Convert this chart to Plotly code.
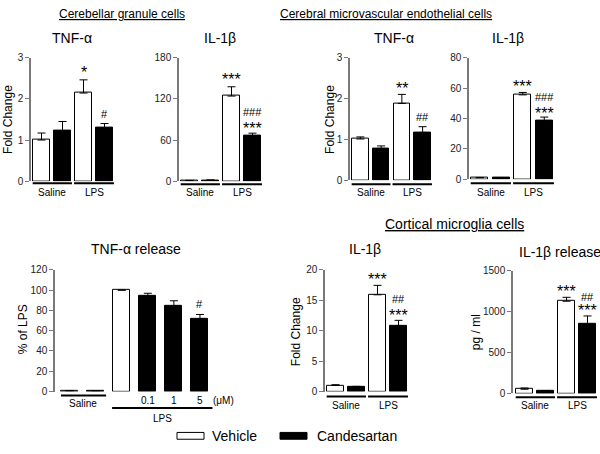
import plotly.graph_objects as go

W, H = 600, 454
FONT = "Arial, Liberation Sans, sans-serif"

# ---------------- data ----------------
conditions = ["Saline", "LPS"]
treatments = ["Vehicle", "Candesartan"]

cgc_tnf = [1.0, 1.22, 2.14, 1.30]
cgc_tnf_err = [0.17, 0.23, 0.32, 0.10]
cgc_il1b = [1.0, 1.5, 124, 66]
cgc_il1b_err = [0.3, 0.4, 13.5, 4.0]

cmec_tnf = [1.01, 0.78, 1.88, 1.17]
cmec_tnf_err = [0.05, 0.06, 0.22, 0.14]
cmec_il1b = [1.0, 0.8, 55.5, 38.5]
cmec_il1b_err = [0.2, 0.3, 1.6, 2.4]

release_doses = ["0.1", "1", "5"]
release_unit = "(μM)"
release_tnf = [0.8, 0.8, 100, 94.4, 84.5, 71.5]
release_tnf_err = [0, 0, 0, 2.5, 5.0, 4.5]

cmg_il1b = [1.0, 0.8, 15.9, 10.8]
cmg_il1b_err = [0.12, 0.05, 1.55, 0.9]
cmg_il1b_release = [52, 30, 1128, 848]
cmg_il1b_release_err = [15, 5, 48, 100]

four_colors = ["white", "black", "white", "black"]
six_colors = ["white", "black", "white", "black", "black", "black"]

# ---------------- panel layout (pixels) ----------------
panels = [
    dict(v=cgc_tnf, e=cgc_tnf_err, c=four_colors, xd=(31, 115), yd=(53, 180), xr=(-0.5, 3.5),
         yr=(0, 3), dt=1, title="TNF-α", tpos=(72, 33), ylab="Fold Change", ylpos=(8, 117),
         sig=[(2, "*", 11, 16), (3, "#", 10, 11)], grp_y=(182, 192)),
    dict(v=cgc_il1b, e=cgc_il1b_err, c=four_colors, xd=(179, 263), yd=(53, 180), xr=(-0.5, 3.5),
         yr=(0, 180), dt=60, title="IL-1β", tpos=(220, 33), ylab=None,
         sig=[(2, "***", 11, 16), (3, "***", 9, 16), (3, "###", 21, 11)], grp_y=(183, 192)),
    dict(v=cmec_tnf, e=cmec_tnf_err, c=four_colors, xd=(350, 433), yd=(53, 179), xr=(-0.5, 3.5),
         yr=(0, 3), dt=1, title="TNF-α", tpos=(394, 33), ylab="Fold Change", ylpos=(330, 117),
         sig=[(2, "**", 10, 16), (3, "##", 10, 11)], grp_y=(183, 192)),
    dict(v=cmec_il1b, e=cmec_il1b_err, c=four_colors, xd=(469, 555), yd=(53, 178), xr=(-0.5, 3.5),
         yr=(0, 80), dt=20, title="IL-1β", tpos=(508, 33), ylab=None,
         sig=[(2, "***", 10, 16), (3, "***", 8, 16), (3, "###", 20, 11)], grp_y=(182, 192)),
    dict(v=release_tnf, e=release_tnf_err, c=six_colors, xd=(55, 213), yd=(271, 396), xr=(-0.56, 5.5),
         yr=(0, 120), dt=20, title="TNF-α release", tpos=(136, 250), ylab="% of LPS", ylpos=(23, 332),
         sig=[(5, "#", 10, 11)], grp_y=None),
    dict(v=cmg_il1b, e=cmg_il1b_err, c=four_colors, xd=(325, 409), yd=(271, 396), xr=(-0.5, 3.5),
         yr=(0, 20), dt=5, title="IL-1β", tpos=(365, 250), ylab="Fold Change", ylpos=(296, 335),
         sig=[(2, "***", 10, 16), (3, "***", 9, 16), (3, "##", 21, 11)], grp_y=(401, 410)),
    dict(v=cmg_il1b_release, e=cmg_il1b_release_err, c=four_colors, xd=(513, 598), yd=(272, 398),
         xr=(-0.55, 3.5), yr=(0, 1500), dt=500, title="IL-1β release", tpos=(560, 253),
         ylab="pg / ml", ylpos=(476, 335),
         sig=[(2, "***", 10, 16), (3, "***", 9, 16), (3, "##", 19, 11)], grp_y=(402, 410)),
]


def px_x(p):
    return p / W


def px_y(p):
    return 1 - p / H


fig = go.Figure()
annotations = []
shapes = []
layout = {}

for i, p in enumerate(panels, start=1):
    xa = "x" if i == 1 else f"x{i}"
    ya = "y" if i == 1 else f"y{i}"
    n = len(p["v"])
    xs = list(range(n))
    width = 0.8 if n == 4 else 0.65
    fig.add_trace(go.Bar(
        x=xs, y=p["v"], xaxis=xa, yaxis=ya, width=width,
        marker=dict(color=p["c"], line=dict(color="black", width=1)),
        error_y=dict(type="data", array=p["e"], arrayminus=[0] * n, symmetric=False,
                     color="black", thickness=1, width=4),
        showlegend=False, hoverinfo="skip",
    ))
    layout["xaxis" if i == 1 else f"xaxis{i}"] = dict(
        domain=[px_x(p["xd"][0]), px_x(p["xd"][1])], range=list(p["xr"]),
        visible=False, anchor=ya, fixedrange=True)
    layout["yaxis" if i == 1 else f"yaxis{i}"] = dict(
        domain=[px_y(p["yd"][1]), px_y(p["yd"][0])], range=list(p["yr"]), dtick=p["dt"],
        anchor=xa, showline=True, linecolor="#7a7a7a", linewidth=1.5, ticks="outside",
        ticklen=4, tickcolor="#7a7a7a", tickwidth=1.2, showgrid=False, zeroline=False,
        tickfont=dict(size=10, color="#222", family=FONT), fixedrange=True)

    # panel title
    annotations.append(dict(text=p["title"], x=px_x(p["tpos"][0]), y=px_y(p["tpos"][1]),
                            xref="paper", yref="paper", showarrow=False, xanchor="center",
                            yanchor="middle", font=dict(size=14, color="black", family=FONT)))
    if p.get("ylab"):
        annotations.append(dict(text=p["ylab"], x=px_x(p["ylpos"][0]), y=px_y(p["ylpos"][1]),
                                xref="paper", yref="paper", showarrow=False, textangle=-90,
                                xanchor="center", yanchor="middle",
                                font=dict(size=12, color="black", family=FONT)))
    # significance marks
    for idx, txt, off, size in p["sig"]:
        corr = -4 if "*" in txt else 0
        annotations.append(dict(text=txt, x=idx, y=p["v"][idx] + p["e"][idx], xref=xa, yref=ya,
                                showarrow=False, xanchor="center", yanchor="middle",
                                yshift=off + corr, font=dict(size=size, color="black", family=FONT)))
    # group lines / labels
    if p["grp_y"] is not None:
        ly, ty = p["grp_y"]
        for (x0, x1, lab) in [(-0.42, 1.45, conditions[0]), (1.55, 3.45, conditions[1])]:
            shapes.append(dict(type="line", xref=xa, yref="paper", x0=x0, x1=x1,
                               y0=px_y(ly), y1=px_y(ly), line=dict(color="black", width=2)))
            annotations.append(dict(text=lab, x=(x0 + x1) / 2, y=px_y(ty), xref=xa, yref="paper",
                                    showarrow=False, xanchor="center", yanchor="middle",
                                    font=dict(size=10, color="black", family=FONT)))
    else:
        # release panel: saline pair, LPS with dose labels
        shapes.append(dict(type="line", xref=xa, yref="paper", x0=-0.33, x1=1.40,
                           y0=px_y(400), y1=px_y(400), line=dict(color="black", width=2)))
        annotations.append(dict(text=conditions[0], x=0.5, y=px_y(408), xref=xa, yref="paper",
                                showarrow=False, xanchor="center", yanchor="middle",
                                font=dict(size=10, color="black", family=FONT)))
        for k, d in enumerate(release_doses):
            annotations.append(dict(text=d, x=3 + k, y=px_y(405), xref=xa, yref="paper",
                                    showarrow=False, xanchor="center", yanchor="middle",
                                    font=dict(size=10, color="black", family=FONT)))
        annotations.append(dict(text=release_unit, x=px_x(223), y=px_y(405), xref="paper",
                                yref="paper", showarrow=False, xanchor="center", yanchor="middle",
                                font=dict(size=10, color="black", family=FONT)))
        shapes.append(dict(type="line", xref=xa, yref="paper", x0=1.63, x1=5.48,
                           y0=px_y(413), y1=px_y(413), line=dict(color="black", width=2)))
        annotations.append(dict(text=conditions[1], x=3.55, y=px_y(424), xref=xa, yref="paper",
                                showarrow=False, xanchor="center", yanchor="middle",
                                font=dict(size=10, color="black", family=FONT)))

# section headings
for txt, cx, cy, fs in [("Cerebellar granule cells", 122, 8, 12),
                        ("Cerebral microvascular endothelial cells", 386, 8, 12),
                        ("Cortical microglia cells", 454, 224, 14)]:
    annotations.append(dict(text=f"<u>{txt}</u>", x=px_x(cx), y=px_y(cy), xref="paper",
                            yref="paper", showarrow=False, xanchor="center", yanchor="middle",
                            font=dict(size=fs, color="black", family=FONT)))

# legend
for (x0, x1, col, lab, tx) in [(177, 204, "white", treatments[0], 210),
                               (280, 307, "black", treatments[1], 315)]:
    shapes.append(dict(type="rect", xref="paper", yref="paper", x0=px_x(x0), x1=px_x(x1),
                       y0=px_y(445), y1=px_y(438), fillcolor=col, line=dict(color="black", width=1)))
    annotations.append(dict(text=lab, x=px_x(tx), y=px_y(442), xref="paper", yref="paper",
                            showarrow=False, xanchor="left", yanchor="middle",
                            font=dict(size=14, color="black", family=FONT)))

fig.update_layout(
    width=W, height=H, margin=dict(l=0, r=0, t=0, b=0),
    paper_bgcolor="white", plot_bgcolor="white",
    annotations=annotations, shapes=shapes, bargap=0,
    font=dict(family=FONT), **layout,
)

fig.write_html("out.html", config={"displayModeBar": False},
               post_script="document.body.style.margin='0';document.body.style.overflow='hidden';")
